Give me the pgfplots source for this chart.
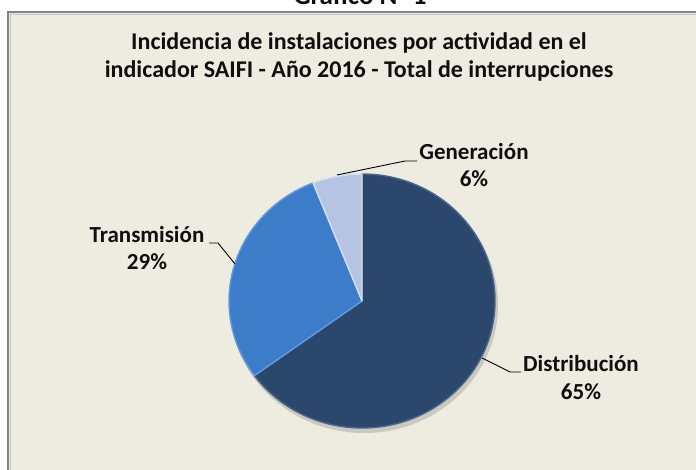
\documentclass[border=0pt]{standalone}
\usepackage{fontspec}
\setmainfont{Carlito}
\usepackage{pgfplots}
\pgfplotsset{compat=1.18}

\definecolor{bgcol}{RGB}{238,236,225}
\definecolor{framecol}{RGB}{130,130,130}
\definecolor{distcol}{RGB}{43,72,108}
\definecolor{distedge}{RGB}{72,102,142}
\definecolor{transcol}{RGB}{60,124,200}
\definecolor{transedge}{RGB}{98,156,222}
\definecolor{gencol}{RGB}{182,196,228}
\definecolor{genedge}{RGB}{214,222,240}
\definecolor{txtcol}{RGB}{15,15,15}

% shares (%)
\def\valDist{65}
\def\valTrans{29}
\def\valGen{6}

% pie centre in axis units (1 unit = 1pt = 1px of the reference)
\def\cx{362}
\def\cy{169}

\pgfmathsetmacro\aA{90}
\pgfmathsetmacro\aB{\aA-\valDist*3.6}
\pgfmathsetmacro\aC{\aB-\valTrans*3.6}
\pgfmathsetmacro\aD{\aC-\valGen*3.6}

\tikzset{pier/.style={x radius=133pt, y radius=127pt},
  lbl/.style={anchor=base, text=txtcol, font=\bfseries\fontsize{23}{26}\selectfont}}

\begin{document}
\begin{tikzpicture}[x=1pt,y=1pt]
\path[use as bounding box] (0,0) rectangle (696,470);
\clip (0,0) rectangle (696,470);
\begin{axis}[
  at={(0,0)}, anchor=origin,
  x=1pt, y=1pt,
  xmin=0, xmax=696, ymin=0, ymax=470,
  hide axis, clip=false,
]
% chart area
\fill[bgcol] (axis cs:8,458) rectangle (axis cs:720,-10);
\draw[framecol, line width=1.6pt] (axis cs:8,-10) -- (axis cs:8,458) -- (axis cs:720,458);
\draw[framecol!45, line width=0.8pt] (axis cs:10,-10) -- (axis cs:10,456) -- (axis cs:720,456);

% caption above the frame (cut by the page edge, as in the source)
\node[anchor=base, text=txtcol, font=\bfseries\fontsize{27}{30}\selectfont]
  at (axis cs:360,465) {Gráfico N° 1};

% title
\node[anchor=base, text=txtcol, font=\bfseries\fontsize{24}{28}\selectfont]
  at (axis cs:359,420) {Incidencia de instalaciones por actividad en el};
\node[anchor=base, text=txtcol, font=\bfseries\fontsize{24}{28}\selectfont]
  at (axis cs:359,392) {indicador SAIFI - Año 2016 - Total de interrupciones};

% soft shadow
\fill[black, opacity=0.15] (axis cs:364,165) ellipse [x radius=134pt, y radius=128pt];

% slices
\filldraw[fill=distcol, draw=distedge, line width=1.4pt, line join=round]
  (axis cs:\cx,\cy) -- ([shift={(\aA:133pt and 127pt)}]axis cs:\cx,\cy)
  arc[start angle=\aA, end angle=\aB, pier] -- cycle;
\filldraw[fill=transcol, draw=transedge, line width=1.4pt, line join=round]
  (axis cs:\cx,\cy) -- ([shift={(\aB:133pt and 127pt)}]axis cs:\cx,\cy)
  arc[start angle=\aB, end angle=\aC, pier] -- cycle;
\filldraw[fill=gencol, draw=genedge, line width=1.4pt, line join=round]
  (axis cs:\cx,\cy) -- ([shift={(\aC:133pt and 127pt)}]axis cs:\cx,\cy)
  arc[start angle=\aC, end angle=\aD, pier] -- cycle;

% leader lines
\draw[black, line width=0.9pt] (axis cs:337,295) -- (axis cs:405,309) -- (axis cs:417,309);
\draw[black, line width=0.9pt] (axis cs:235,206) -- (axis cs:218,227) -- (axis cs:209,227);
\draw[black, line width=0.9pt] (axis cs:482,112) -- (axis cs:510,98) -- (axis cs:521,98);

% labels
\node[lbl] at (axis cs:474,310) {Generación};
\node[lbl] at (axis cs:474,283) {\valGen\%};
\node[lbl] at (axis cs:147,227) {Transmisión};
\node[lbl] at (axis cs:147,200) {\valTrans\%};
\node[lbl] at (axis cs:581,98) {Distribución};
\node[lbl] at (axis cs:581,70) {\valDist\%};
\end{axis}
\end{tikzpicture}
\end{document}
